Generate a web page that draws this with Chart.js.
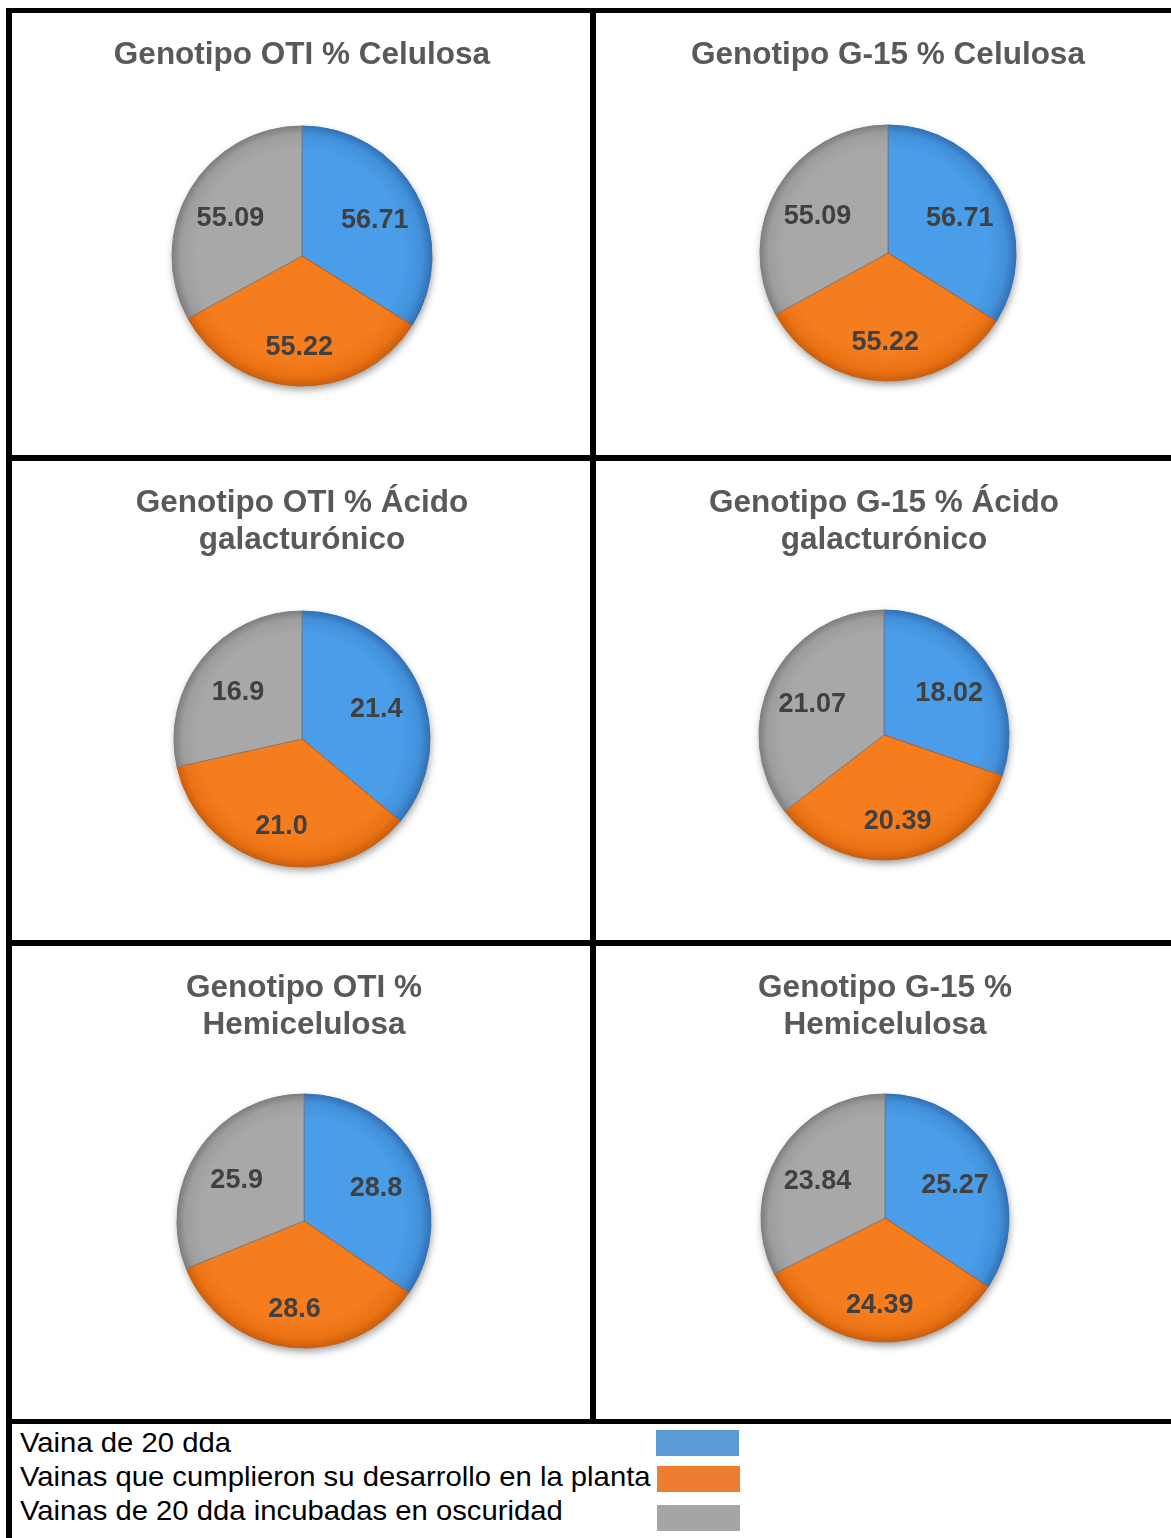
<!DOCTYPE html>
<html>
<head>
<meta charset="utf-8">
<title>Composición de pared celular en vainas</title>
<script src="https://cdn.jsdelivr.net/npm/chart.js@4/dist/chart.umd.min.js"></script>
<style>
  html, body { margin: 0; padding: 0; background: #fff; }
  body { width: 1171px; height: 1538px; position: relative; overflow: hidden;
         font-family: "Liberation Sans", Arial, sans-serif; }
  .rule { position: absolute; background: #000; }
  canvas { position: absolute; }
  .legend-row { position: absolute; left: 20px; font-size: 28px; line-height: 28px; color: #000;
                white-space: nowrap; transform: scaleX(1.045); transform-origin: left center; }
  .swatch { position: absolute; width: 83px; height: 26px; }
</style>
</head>
<body>
<script>
// Categories (one slice each, same order in every pie)
const categories = [
  'Vaina de 20 dda',
  'Vainas que cumplieron su desarrollo en la planta',
  'Vainas de 20 dda incubadas en oscuridad'
];

// Chart titles
const chartTitles = [
  'Genotipo OTI % Celulosa',
  'Genotipo G-15 % Celulosa',
  ['Genotipo OTI % Ácido', 'galacturónico'],
  ['Genotipo G-15 % Ácido', 'galacturónico'],
  ['Genotipo OTI %', 'Hemicelulosa'],
  ['Genotipo G-15 %', 'Hemicelulosa']
];

// Series values
const otiCelulosa = [56.71, 55.22, 55.09];
const g15Celulosa = [56.71, 55.22, 55.09];
const otiAcido    = [21.4, 21.0, 16.9];
const g15Acido    = [18.02, 20.39, 21.07];
const otiHemi     = [28.8, 28.6, 25.9];
const g15Hemi     = [25.27, 24.39, 23.84];

// Decimals shown on the slice labels of each pie
const labelDecimals = [2, 2, 1, 2, 1, 2];

const seriesList = [otiCelulosa, g15Celulosa, otiAcido, g15Acido, otiHemi, g15Hemi];

// ---- styling ----
const sliceFill   = ['#4a9de8', '#f67d1d', '#a8a8a8'];
const sliceMid    = ['#4290da', '#ec7314', '#9d9d9d'];
const sliceEdge   = ['#3271b6', '#cc5e0c', '#7f7f7f'];
const legendColors = ['#5b9bd5', '#ed7d31', '#a5a5a5'];
const labelRadius = [0.64, 0.68, 0.64];
const labelShiftY = [5, 3, 5];
const FONT = '"Liberation Sans", Arial, sans-serif';

// ---- frame lines ----
const rules = [
  [6, 8, 1165, 5],      // top
  [6, 8, 6, 1530],      // left
  [590, 8, 6, 1416],    // centre vertical
  [6, 455, 1165, 6],    // row separators
  [6, 940, 1165, 6],
  [6, 1419, 1165, 5]    // above legend
];
rules.forEach(([x, y, w, h]) => {
  const d = document.createElement('div');
  d.className = 'rule';
  Object.assign(d.style, { left: x + 'px', top: y + 'px', width: w + 'px', height: h + 'px' });
  document.body.appendChild(d);
});

// ---- panel placement: pie centre (page coords), radius, panel top and height ----
const panels = [
  { cx: 302, cy: 256,  r: 130, top: 13,  h: 442 },
  { cx: 888, cy: 253,  r: 128, top: 13,  h: 442 },
  { cx: 302, cy: 739,  r: 128, top: 461, h: 479 },
  { cx: 884, cy: 735,  r: 125, top: 461, h: 479 },
  { cx: 304, cy: 1221, r: 127, top: 946, h: 473 },
  { cx: 885, cy: 1218, r: 124, top: 946, h: 473 }
];
const CANVAS_W = 560;
const TITLE_SIZE = 31.5;
const TITLE_LINE = 37;
const TITLE_TOP = 23.5;

// soft shadow under each pie
const pieShadow = {
  id: 'pieShadow',
  beforeDatasetsDraw(chart) {
    const arc = chart.getDatasetMeta(0).data[0];
    if (!arc) return;
    const { x, y, outerRadius } = arc.getProps(['x', 'y', 'outerRadius'], true);
    const ctx = chart.ctx;
    ctx.save();
    ctx.shadowColor = 'rgba(0,0,0,0.45)';
    ctx.shadowBlur = 9;
    ctx.shadowOffsetX = 1;
    ctx.shadowOffsetY = 4;
    ctx.beginPath();
    ctx.arc(x, y, outerRadius - 1, 0, Math.PI * 2);
    ctx.fillStyle = '#777';
    ctx.fill();
    ctx.restore();
  }
};

// value labels inside the slices
const sliceLabels = {
  id: 'sliceLabels',
  afterDatasetsDraw(chart, args, opts) {
    const meta = chart.getDatasetMeta(0);
    const values = chart.data.datasets[0].data;
    const ctx = chart.ctx;
    ctx.save();
    ctx.font = 'bold 27px ' + FONT;
    ctx.fillStyle = '#404040';
    ctx.textAlign = 'center';
    ctx.textBaseline = 'middle';
    meta.data.forEach((arc, i) => {
      const p = arc.getProps(['x', 'y', 'startAngle', 'endAngle', 'outerRadius'], true);
      const mid = (p.startAngle + p.endAngle) / 2;
      const rr = p.outerRadius * labelRadius[i];
      ctx.fillText(values[i].toFixed(opts.decimals),
                   p.x + Math.cos(mid) * rr, p.y + Math.sin(mid) * rr + labelShiftY[i]);
    });
    ctx.restore();
  }
};

function sliceGradient(c) {
  const chart = c.chart;
  const area = chart.chartArea;
  const i = c.dataIndex;
  if (!area) return sliceFill[i];
  const r = c.dataset.radius;
  const x = (area.left + area.right) / 2;
  const y = (area.top + area.bottom) / 2;
  const g = chart.ctx.createRadialGradient(x - r * 0.08, y - r * 0.1, 0, x, y, r);
  g.addColorStop(0, sliceFill[i]);
  g.addColorStop(0.8, sliceFill[i]);
  g.addColorStop(0.93, sliceMid[i]);
  g.addColorStop(1, sliceEdge[i]);
  return g;
}

panels.forEach((p, k) => {
  const canvas = document.createElement('canvas');
  canvas.width = CANVAS_W;
  canvas.height = p.h;
  Object.assign(canvas.style, {
    left: (p.cx - CANVAS_W / 2) + 'px', top: p.top + 'px',
    width: CANVAS_W + 'px', height: p.h + 'px'
  });
  document.body.appendChild(canvas);

  const title = chartTitles[k];
  const lines = Array.isArray(title) ? title.length : 1;
  const cyRel = p.cy - p.top;
  const areaTop = cyRel - p.r - 4;
  const areaBottom = cyRel + p.r + 4;

  new Chart(canvas, {
    type: 'pie',
    data: {
      labels: categories,
      datasets: [{
        data: seriesList[k],
        radius: p.r,
        backgroundColor: sliceGradient,
        borderColor: sliceEdge,
        borderWidth: 1
      }]
    },
    options: {
      responsive: false,
      animation: false,
      devicePixelRatio: 1,
      events: [],
      layout: { padding: { top: 0, left: 0, right: 0, bottom: p.h - areaBottom } },
      plugins: {
        legend: { display: false },
        tooltip: { enabled: false },
        title: {
          display: true,
          text: title,
          color: '#595959',
          font: { family: FONT, size: TITLE_SIZE, weight: 'bold', lineHeight: TITLE_LINE / TITLE_SIZE },
          padding: { top: TITLE_TOP, bottom: areaTop - TITLE_TOP - lines * TITLE_LINE }
        },
        sliceLabels: { decimals: labelDecimals[k] }
      }
    },
    plugins: [pieShadow, sliceLabels]
  });
});

// ---- legend ----
const legendRowTop = [1429, 1463, 1497];
const swatchPos = [[656, 1430], [657, 1466], [657, 1505]];
categories.forEach((name, i) => {
  const row = document.createElement('div');
  row.className = 'legend-row';
  row.style.top = legendRowTop[i] + 'px';
  row.textContent = name;
  document.body.appendChild(row);
  const sw = document.createElement('div');
  sw.className = 'swatch';
  Object.assign(sw.style, { left: swatchPos[i][0] + 'px', top: swatchPos[i][1] + 'px', background: legendColors[i] });
  document.body.appendChild(sw);
});
</script>
</body>
</html>
